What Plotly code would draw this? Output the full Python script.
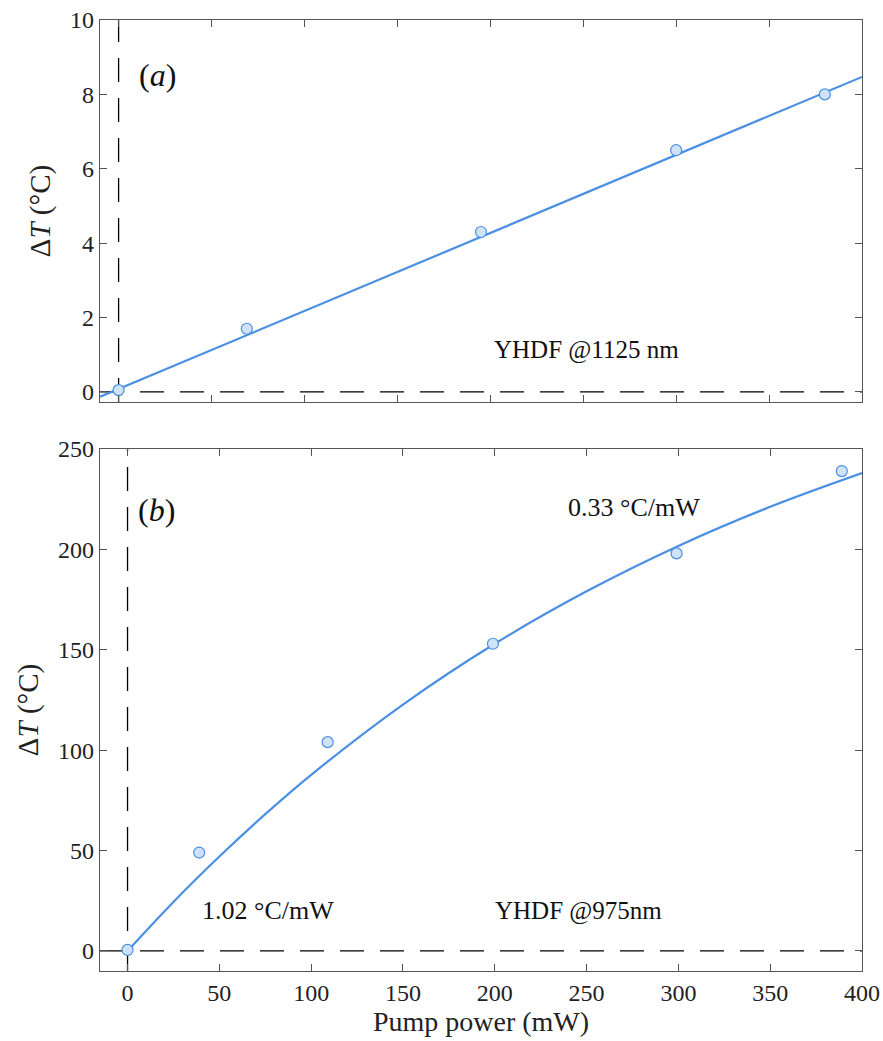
import plotly.graph_objects as go

# ---- data (a): YHDF @1125 nm
a_power = [0, 69, 195, 300, 380]
a_dT = [0.05, 1.7, 4.3, 6.5, 8.0]
a_fit_x = [-10, 400]
a_fit_y = [-0.13, 8.47]

# ---- data (b): YHDF @975 nm
b_power = [0, 39, 109, 199, 299, 389]
b_dT = [0.5, 49, 104, 153, 198, 239]
b_fit_x = [0, 25, 50, 75, 100, 150, 200, 250, 300, 350, 400]
b_fit_y = [0, 24.4, 47.0, 68.1, 87.7, 122.7, 153.0, 179.1, 201.7, 221.2, 238.0]

x_ticks = [0, 50, 100, 150, 200, 250, 300, 350, 400]
a_yticks = [0, 2, 4, 6, 8, 10]
b_yticks = [0, 50, 100, 150, 200, 250]

FONT = "Liberation Serif"
LINE_C = "#4a8fe3"
FILL_C = "#cfe2f8"
AX_C = "#555555"

fig = go.Figure()

fig.add_trace(go.Scatter(x=a_fit_x, y=a_fit_y, mode="lines",
                         line=dict(color=LINE_C, width=2.2),
                         xaxis="x", yaxis="y", showlegend=False))
fig.add_trace(go.Scatter(x=a_power, y=a_dT, mode="markers",
                         marker=dict(size=11, color=FILL_C, line=dict(color=LINE_C, width=1.2)),
                         xaxis="x", yaxis="y", showlegend=False))
fig.add_trace(go.Scatter(x=b_fit_x, y=b_fit_y, mode="lines",
                         line=dict(color=LINE_C, width=2.2, shape="spline"),
                         xaxis="x2", yaxis="y2", showlegend=False))
fig.add_trace(go.Scatter(x=b_power, y=b_dT, mode="markers",
                         marker=dict(size=11, color=FILL_C, line=dict(color=LINE_C, width=1.2)),
                         xaxis="x2", yaxis="y2", showlegend=False))

dash = "24px,16px"
shapes = []
for xr, yr in (("x", "y"), ("x2", "y2")):
    shapes.append(dict(type="line", xref=xr, yref=yr + " domain", x0=0, x1=0, y0=0, y1=1,
                       line=dict(color="black", width=1.3, dash=dash), layer="below"))
    shapes.append(dict(type="line", xref=xr + " domain", yref=yr, x0=0, x1=1, y0=0, y1=0,
                       line=dict(color="black", width=1.3, dash=dash), layer="below"))

axis_common = dict(showgrid=False, zeroline=False, showline=True, linecolor=AX_C, linewidth=1.3,
                   mirror="ticks", ticks="inside", ticklen=7, tickcolor=AX_C, tickwidth=1.2,
                   automargin=False,
                   tickfont=dict(family=FONT, size=24, color="#222"))

def ann(text, x, y, xr, yr, size=26):
    return dict(text=text, x=x, y=y, xref=xr, yref=yr, showarrow=False,
                font=dict(family=FONT, size=size, color="#111"), xanchor="center", yanchor="middle")

annotations = [
    ann("(<i>a</i>)", 20.7, 8.52, "x", "y", 32),
    ann("YHDF @1125 nm", 252, 1.13, "x", "y", 25),
    ann("(<i>b</i>)", 15.8, 219.6, "x2", "y2", 32),
    ann("0.33 °C/mW", 276, 221, "x2", "y2", 26),
    ann("1.02 °C/mW", 76.7, 19.9, "x2", "y2", 26),
    ann("YHDF @975nm", 245.4, 19.9, "x2", "y2", 25),
]

fig.update_layout(
    width=883, height=1041,
    margin=dict(l=100, r=21, t=20, b=70),
    paper_bgcolor="white", plot_bgcolor="white",
    font=dict(family=FONT, color="#222"),
    xaxis=dict(axis_common, range=[-10, 400], tickvals=x_ticks, showticklabels=False,
               domain=[0, 1], anchor="y"),
    yaxis=dict(axis_common, range=[-0.27, 10], tickvals=a_yticks, domain=[0.5983, 1], anchor="x",
               title=dict(text="Δ<i>T</i> (°C)", font=dict(family=FONT, size=29, color="#222"), standoff=10)),
    xaxis2=dict(axis_common, range=[-15, 400], tickvals=x_ticks, domain=[0, 1], anchor="y2",
                title=dict(text="Pump power (mW)", font=dict(family=FONT, size=28, color="#222"), standoff=6)),
    yaxis2=dict(axis_common, range=[-10, 250], tickvals=b_yticks, domain=[0, 0.5489], anchor="x2",
                title=dict(text="Δ<i>T</i> (°C)", font=dict(family=FONT, size=29, color="#222"), standoff=10)),
    shapes=shapes,
    annotations=annotations,
)

fig.write_html("out.html", config={"displayModeBar": False},
               post_script="document.body.style.margin='0';document.body.style.overflow='hidden';")
